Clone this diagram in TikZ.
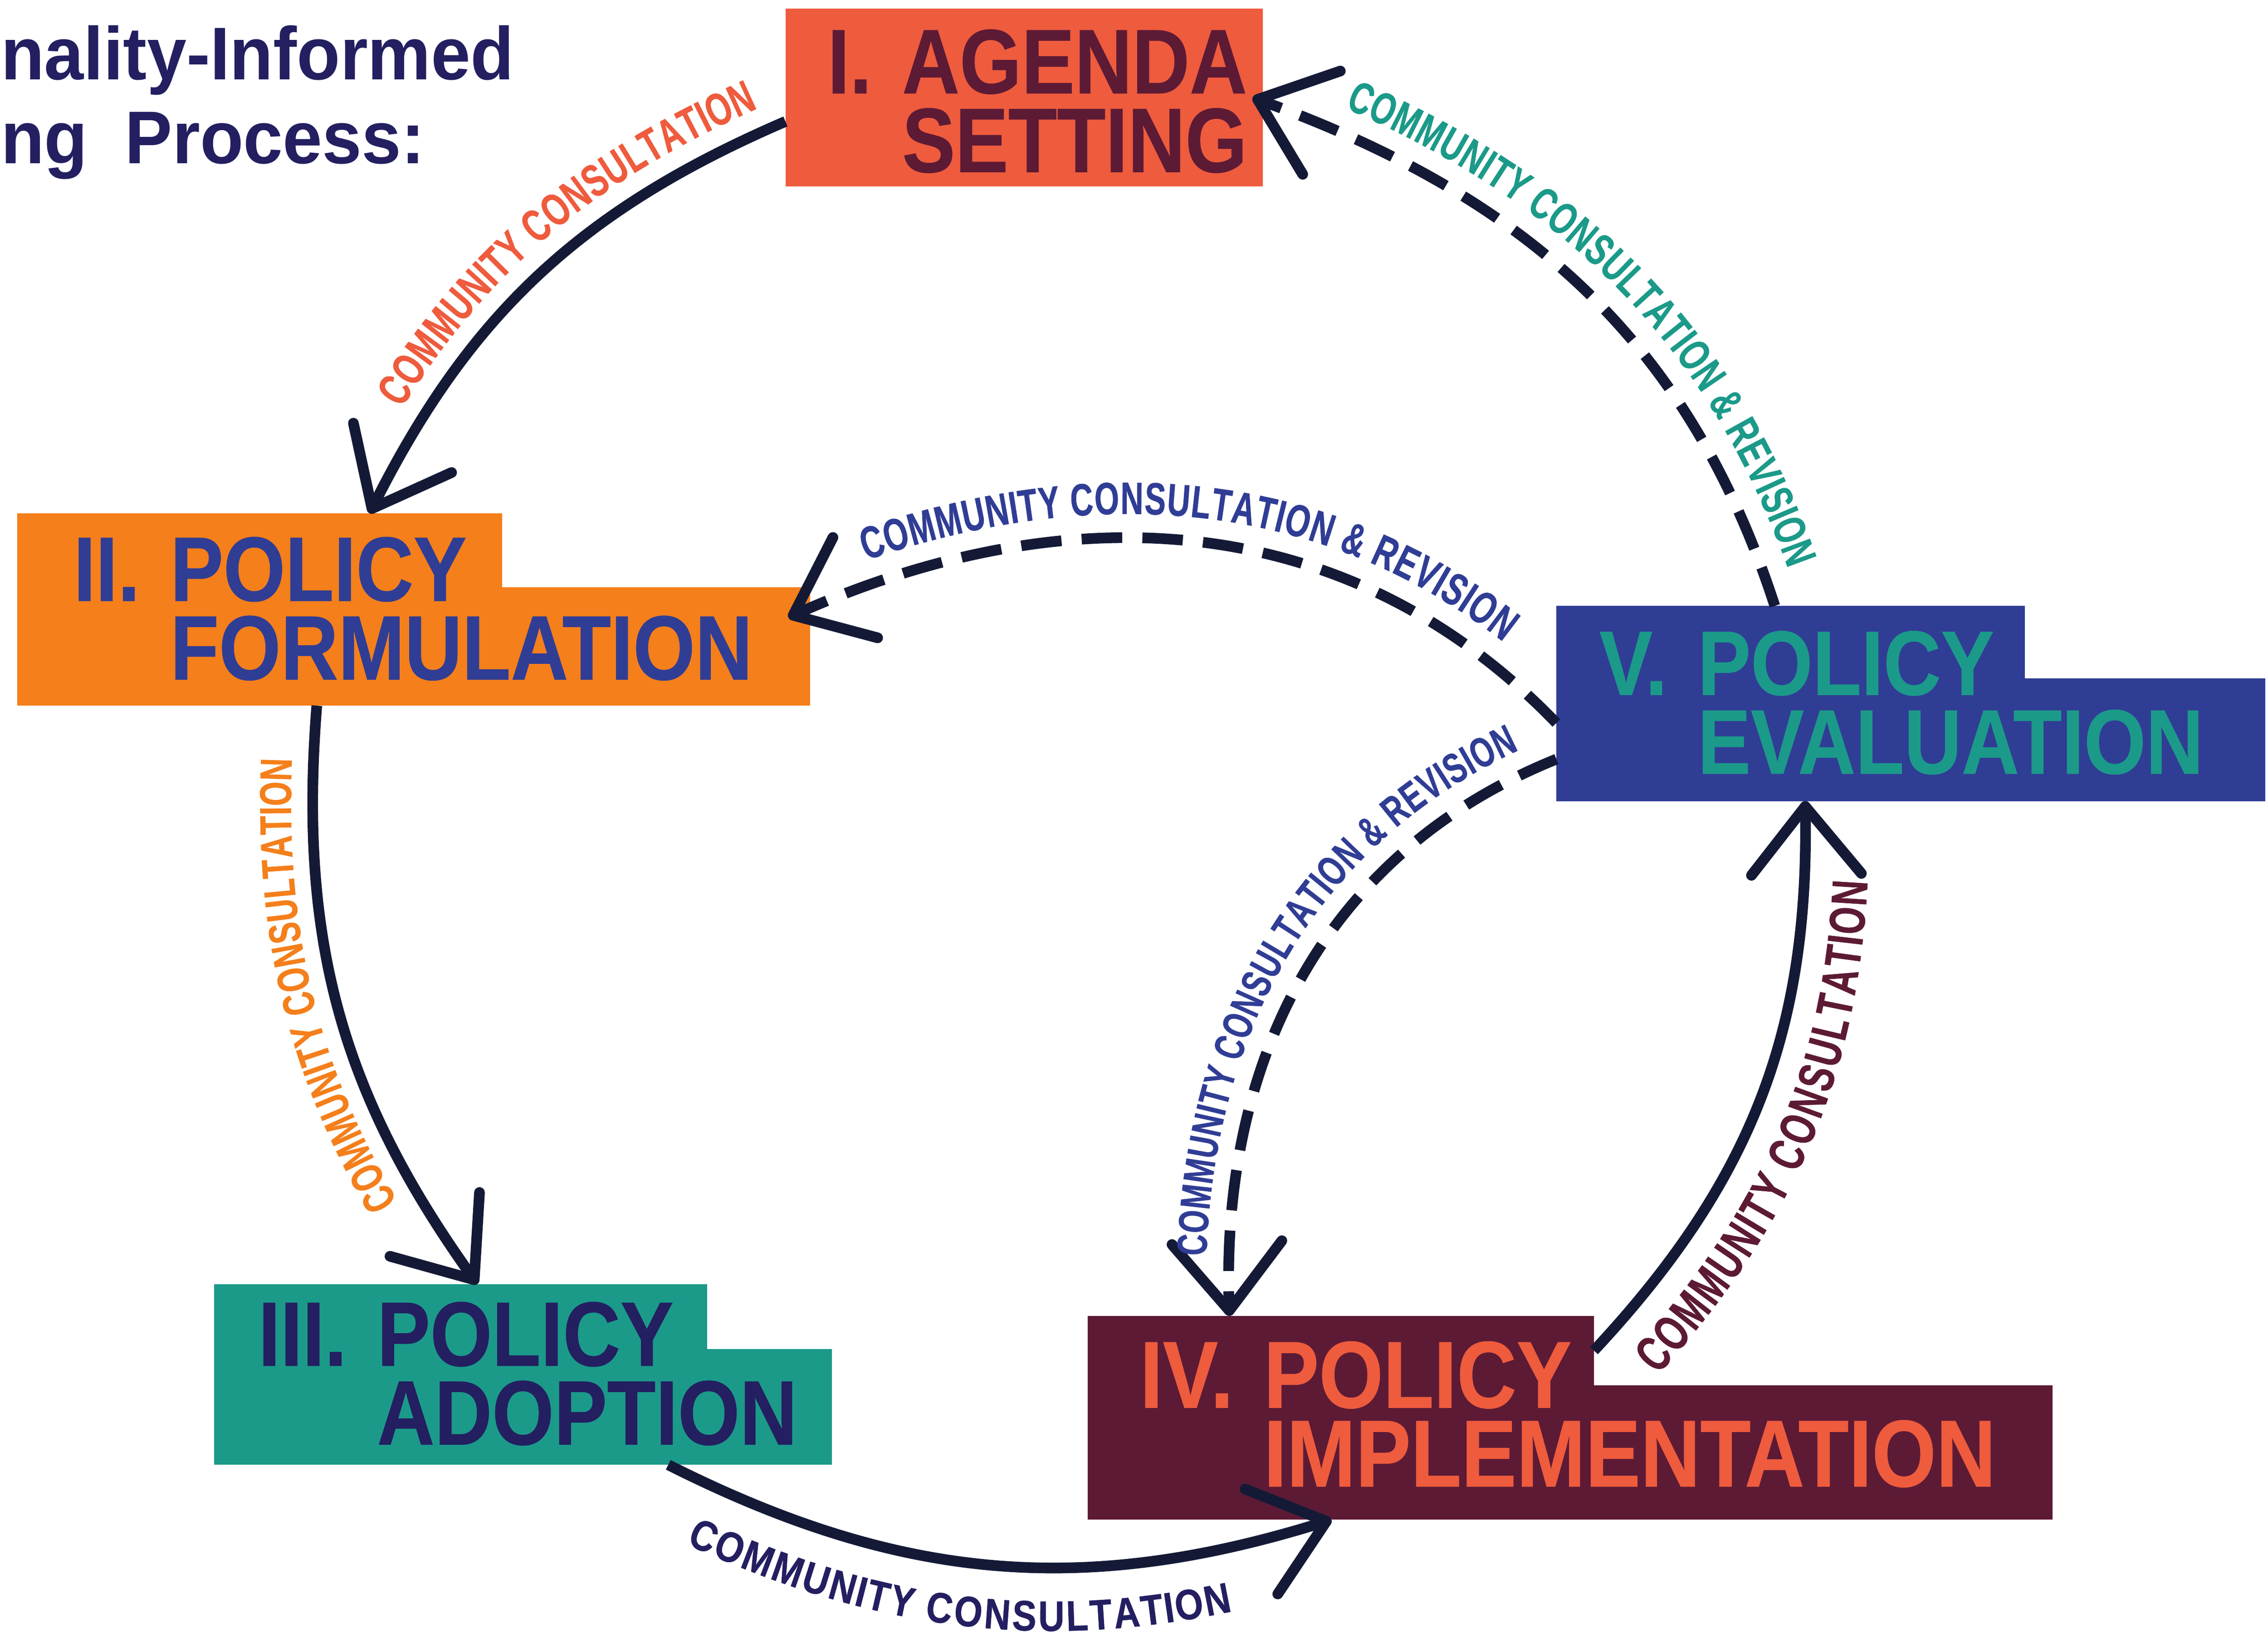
\documentclass[tikz,border=0pt]{standalone}
\usepackage{fontspec}
\setmainfont{Liberation Sans}
\newfontfamily\stagefont{Liberation Sans}[FakeStretch=0.87,FakeBold=0.5]
\newfontfamily\titlefont{Liberation Sans}[FakeStretch=0.95]
\newfontfamily\tagfont{Liberation Sans}[FakeStretch=0.7,FakeBold=0.6]
\newfontfamily\widetagfont{Liberation Sans}[FakeStretch=0.85,FakeBold=0.6]
\usetikzlibrary{arrows.meta,decorations.text}

\definecolor{cInk}{HTML}{231F61}
\definecolor{cLine}{HTML}{141A36}
\definecolor{cCoral}{HTML}{EE5B3D}
\definecolor{cMaroon}{HTML}{5D1A35}
\definecolor{cOrange}{HTML}{F47F1B}
\definecolor{cBlue}{HTML}{303D95}
\definecolor{cTeal}{HTML}{1B9A89}

\newcommand{\stagenum}[1]{\llap{#1\kern2.1mm}}

\tikzset{
  panel/.style={fill=#1, inner sep=0pt, outer sep=0pt},
  stage/.style={anchor=base west, align=left, inner sep=0pt,
    font=\stagefont\bfseries\fontsize{18}{15.5}\selectfont},
  flow/.style={draw=cLine, line width=2.1pt,
    -{Straight Barb[length=4.7mm,width=7.6mm,round]}},
  back/.style={dash pattern=on 2.8mm off 1.4mm},
  tag/.style 2 args={decorate, decoration={text along path, text color=#1, raise=#2}},
}

\begin{document}
\begin{tikzpicture}[x=1mm,y=1mm]
\useasboundingbox (0,0) rectangle (156.8,-113.2);

% title
\node[anchor=base west, align=left, inner sep=0pt, text=cInk,
  font=\titlefont\bfseries\fontsize{14.7}{16.5}\selectfont] (title) at (0,-11.3)
  {nality-Informed\\ng\enspace Process:};

% stages
\node[panel=cCoral, minimum width=33mm, minimum height=12.3mm, anchor=north west] (agenda) at (54.3,-0.6) {};
\node[panel=cOrange, minimum width=54.8mm, minimum height=8.2mm, anchor=north west] (form) at (1.2,-40.6) {};
\node[panel=cOrange, minimum width=33.5mm, minimum height=5.1mm, anchor=south west] (formtop) at (form.north west) {};
\node[panel=cTeal, minimum width=42.7mm, minimum height=8mm, anchor=north west] (adopt) at (14.8,-93.3) {};
\node[panel=cTeal, minimum width=34.1mm, minimum height=4.5mm, anchor=south west] (adopttop) at (adopt.north west) {};
\node[panel=cMaroon, minimum width=66.7mm, minimum height=9.3mm, anchor=north west] (impl) at (75.2,-95.8) {};
\node[panel=cMaroon, minimum width=35mm, minimum height=4.8mm, anchor=south west] (impltop) at (impl.north west) {};
\node[panel=cBlue, minimum width=49mm, minimum height=8.5mm, anchor=north west] (eval) at (107.6,-46.9) {};
\node[panel=cBlue, minimum width=32.4mm, minimum height=5mm, anchor=south west] (evaltop) at (eval.north west) {};

% consultation
\draw[flow] ([yshift=-1.65mm]agenda.west) to[bend right=20] ([xshift=7.6mm]formtop.north);
\draw[flow] ([xshift=-6.7mm]form.south) to[bend right=20] ([xshift=1.15mm]adopttop.north);
\draw[flow] ([xshift=10.05mm]adopt.south) to[bend right=22] ([xshift=-16.5mm]impl.south);
\draw[flow] (impltop.east) to[bend right=22] ([xshift=-7.3mm]eval.south);

% consultation & revision
\draw[flow,back] ([xshift=-1.1mm]evaltop.north) to[out=108,in=-20] ([xshift=-0.7mm]agenda.east);
\draw[flow,back] ([yshift=1.15mm]eval.west) to[out=134,in=24] ([xshift=-1.5mm,yshift=2mm]form.east);
\draw[flow,back] ([yshift=-1.35mm]eval.west) to[out=202,in=92] ([xshift=-7.7mm]impltop.north);

% labels
\path[tag={cCoral}{1.6mm}, decoration={text align={center, left indent=6mm},
  text={|\tagfont\bfseries\fontsize{9}{9}\selectfont|COMMUNITY CONSULTATION}}]
  ([xshift=7.6mm]formtop.north) to[bend left=20] ([yshift=-1.65mm]agenda.west);
\path[tag={cOrange}{1.5mm}, decoration={text align={center, left indent=4mm},
  text={|\tagfont\bfseries\fontsize{8.8}{8.8}\selectfont|COMMUNITY CONSULTATION}}]
  ([xshift=1.15mm]adopttop.north) to[bend left=20] ([xshift=-6.7mm]form.south);
\path[tag={cInk}{-4.4mm}, decoration={text align={center, right indent=4.6mm},
  text={|\widetagfont\bfseries\fontsize{8.4}{8.4}\selectfont|COMMUNITY CONSULTATION}}]
  ([xshift=10.05mm]adopt.south) to[bend right=22] ([xshift=-16.5mm]impl.south);
\path[tag={cMaroon}{-4.4mm}, decoration={text align={center, right indent=3.6mm},
  text={|\tagfont\bfseries\fontsize{9.9}{9.9}\selectfont|COMMUNITY CONSULTATION}}]
  (impltop.east) to[bend right=22] ([xshift=-7.3mm]eval.south);
\path[tag={cTeal}{1.7mm}, decoration={text align={center, left indent=4mm},
  text={|\tagfont\bfseries\fontsize{8.8}{8.8}\selectfont|COMMUNITY CONSULTATION {\&} REVISION}}]
  ([xshift=-0.7mm]agenda.east) to[out=-20,in=108] ([xshift=-1.1mm]evaltop.north);
\path[tag={cBlue}{1.7mm}, decoration={text align=center,
  text={|\tagfont\bfseries\fontsize{8.9}{8.9}\selectfont|COMMUNITY CONSULTATION {\&} REVISION}}]
  ([xshift=-1.5mm,yshift=2mm]form.east) to[out=24,in=134] ([yshift=1.15mm]eval.west);
\path[tag={cBlue}{1.6mm}, decoration={text align={center, left indent=2mm},
  text={|\tagfont\bfseries\fontsize{8.3}{8.3}\selectfont|COMMUNITY CONSULTATION {\&} REVISION}}]
  ([xshift=-7.7mm]impltop.north) to[out=92,in=202] ([yshift=-1.35mm]eval.west);

% stage names
\node[stage, text=cMaroon] (agendatxt) at (62.3,-11.9) {\stagenum{I.}AGENDA\\SETTING};
\node[stage, text=cBlue] (formtxt) at (11.7,-47) {\stagenum{II.}POLICY\\FORMULATION};
\node[stage, text=cInk] (adopttxt) at (26,-99.9) {\stagenum{III.}POLICY\\ADOPTION};
\node[stage, text=cCoral, font=\stagefont\bfseries\fontsize{18.7}{15.5}\selectfont] (impltxt) at (87.3,-102.8) {\stagenum{IV.}POLICY\\IMPLEMENTATION};
\node[stage, text=cTeal] (evaltxt) at (117.3,-53.5) {\stagenum{V.}POLICY\\EVALUATION};
\end{tikzpicture}
\end{document}
